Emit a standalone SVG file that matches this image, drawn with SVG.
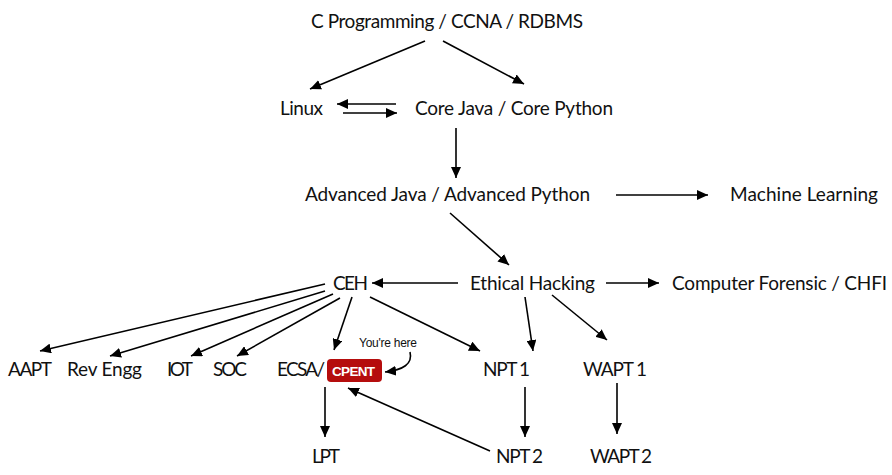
<svg xmlns="http://www.w3.org/2000/svg" width="892" height="475" viewBox="0 0 892 475">
<style>
.t{font-family:Lato,"Open Sans","Liberation Sans",sans-serif;font-size:19px;fill:#111}
.c line,.c path{stroke:#000;stroke-width:1.6;fill:none;marker-end:url(#ah)}
.tag{font-family:"Liberation Sans",Arial,sans-serif;font-weight:bold;font-size:13.5px;fill:#fff}
.note{font-family:"Liberation Sans",Arial,sans-serif;font-size:12px;fill:#111}
</style>
<defs>
<marker id="ah" markerUnits="userSpaceOnUse" markerWidth="12" markerHeight="10" refX="11" refY="5" orient="auto">
<path d="M0,0 L11,5 L0,10 z" fill="#000"/>
</marker>
</defs>
<rect width="892" height="475" fill="#fff"/>
<g class="c" id="connectors">
<line x1="425" y1="41" x2="310" y2="89"/>
<line x1="443" y1="41" x2="524" y2="84"/>
<line x1="396" y1="104" x2="337" y2="104"/>
<line x1="343" y1="113" x2="397" y2="113"/>
<line x1="456" y1="128" x2="456" y2="178"/>
<line x1="616" y1="195" x2="708" y2="195"/>
<line x1="450" y1="213" x2="509" y2="265"/>
<line x1="606" y1="283" x2="659" y2="283"/>
<line x1="458" y1="283" x2="372" y2="283"/>
<line x1="325" y1="284" x2="40" y2="351"/>
<line x1="325" y1="291" x2="110" y2="356"/>
<line x1="333" y1="294" x2="191" y2="356"/>
<line x1="340" y1="298" x2="237" y2="356"/>
<line x1="352" y1="297" x2="334" y2="350"/>
<line x1="370" y1="297" x2="480" y2="351"/>
<line x1="525" y1="297" x2="533" y2="351"/>
<line x1="552" y1="295" x2="607" y2="340"/>
<line x1="325" y1="387" x2="325" y2="437"/>
<line x1="525" y1="387" x2="525" y2="437"/>
<line x1="617" y1="383" x2="617" y2="434"/>
<line x1="490" y1="451" x2="348" y2="388"/>
<path d="M410,352 C413,364 403,370 385,372"/>
</g>
<g id="n-cprog"><text class="t" x="311" y="28" textLength="272">C Programming / CCNA / RDBMS</text></g>
<g id="n-linux"><text class="t" x="280" y="115" textLength="43">Linux</text></g>
<g id="n-core"><text class="t" x="415" y="115" textLength="198">Core Java / Core Python</text></g>
<g id="n-adv"><text class="t" x="305" y="201" textLength="285">Advanced Java / Advanced Python</text></g>
<g id="n-ml"><text class="t" x="730" y="201" textLength="148">Machine Learning</text></g>
<g id="n-eh"><text class="t" x="470" y="290" textLength="125">Ethical Hacking</text></g>
<g id="n-cf"><text class="t" x="672" y="290" textLength="215">Computer Forensic / CHFI</text></g>
<g id="n-ceh"><text class="t" x="333" y="290" textLength="35">CEH</text></g>
<g id="n-aapt"><text class="t" x="8" y="376" textLength="44">AAPT</text></g>
<g id="n-rev"><text class="t" x="67" y="376" textLength="75">Rev Engg</text></g>
<g id="n-iot"><text class="t" x="167" y="376" textLength="26">IOT</text></g>
<g id="n-soc"><text class="t" x="213" y="376" textLength="34">SOC</text></g>
<g id="n-ecsa">
<text class="t" x="277" y="376" textLength="48">ECSA/</text>
<rect x="327" y="359" width="55" height="23" rx="4" fill="#b50d0d"/>
<text class="tag" x="332" y="376" textLength="43">CPENT</text>
</g>
<g id="n-here"><text class="note" x="359" y="347" textLength="58">You're here</text></g>
<g id="n-npt1"><text class="t" x="483" y="376" textLength="47">NPT 1</text></g>
<g id="n-wapt1"><text class="t" x="583" y="376" textLength="64">WAPT 1</text></g>
<g id="n-lpt"><text class="t" x="312" y="463" textLength="28">LPT</text></g>
<g id="n-npt2"><text class="t" x="496" y="463" textLength="47">NPT 2</text></g>
<g id="n-wapt2"><text class="t" x="590" y="463" textLength="62">WAPT 2</text></g>
</svg>
